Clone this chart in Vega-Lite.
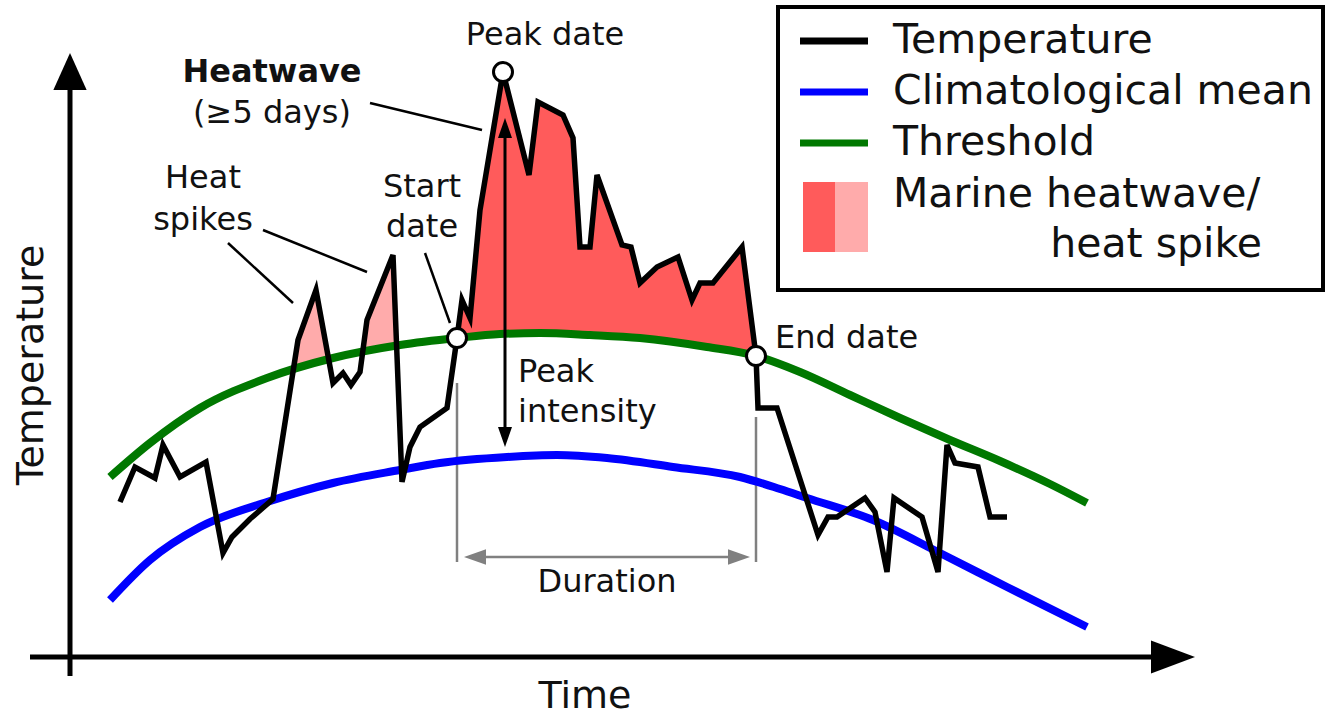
{
  "$schema": "https://vega.github.io/schema/vega-lite/v6.json",
  "width": 1328,
  "height": 718,
  "autosize": {"type": "fit", "contains": "padding"},
  "padding": 0,
  "background": "white",
  "config": {"view": {"stroke": null}, "text": {"font": "DejaVu Sans", "color": "#111111"}},
  "datasets": {
    "temp": [
      {"x": 120, "y": 216}, {"x": 135, "y": 251}, {"x": 155, "y": 240}, {"x": 163, "y": 273},
      {"x": 180, "y": 241}, {"x": 206, "y": 256}, {"x": 223, "y": 165}, {"x": 232, "y": 181},
      {"x": 250, "y": 199}, {"x": 273, "y": 219}, {"x": 298, "y": 378}, {"x": 316, "y": 428},
      {"x": 333, "y": 335}, {"x": 343, "y": 345}, {"x": 351, "y": 333}, {"x": 360, "y": 346},
      {"x": 367, "y": 398}, {"x": 393, "y": 463}, {"x": 402, "y": 236}, {"x": 410, "y": 271},
      {"x": 420, "y": 291}, {"x": 447, "y": 310}, {"x": 457, "y": 380}, {"x": 462, "y": 418},
      {"x": 470, "y": 400}, {"x": 480, "y": 508}, {"x": 503, "y": 646}, {"x": 529, "y": 543},
      {"x": 538, "y": 616}, {"x": 563, "y": 603}, {"x": 573, "y": 580}, {"x": 580, "y": 471},
      {"x": 590, "y": 471}, {"x": 597, "y": 543}, {"x": 622, "y": 473}, {"x": 631, "y": 471},
      {"x": 640, "y": 435}, {"x": 657, "y": 451}, {"x": 678, "y": 461}, {"x": 692, "y": 418},
      {"x": 700, "y": 435}, {"x": 713, "y": 435}, {"x": 742, "y": 471}, {"x": 756, "y": 362},
      {"x": 758, "y": 310}, {"x": 777, "y": 310}, {"x": 818, "y": 183}, {"x": 828, "y": 201},
      {"x": 837, "y": 201}, {"x": 865, "y": 220}, {"x": 875, "y": 206}, {"x": 887, "y": 146},
      {"x": 894, "y": 220}, {"x": 922, "y": 201}, {"x": 938, "y": 146}, {"x": 947, "y": 273},
      {"x": 955, "y": 255}, {"x": 978, "y": 251}, {"x": 990, "y": 201}, {"x": 1007, "y": 201}
    ],
    "thr": [
      {"x": 110, "y": 241}, {"x": 150, "y": 275}, {"x": 200, "y": 310}, {"x": 267, "y": 340},
      {"x": 333, "y": 360}, {"x": 400, "y": 373}, {"x": 457, "y": 380}, {"x": 500, "y": 384},
      {"x": 540, "y": 385}, {"x": 590, "y": 383}, {"x": 640, "y": 380}, {"x": 707, "y": 371},
      {"x": 756, "y": 362}, {"x": 800, "y": 346}, {"x": 850, "y": 323}, {"x": 900, "y": 300},
      {"x": 950, "y": 278}, {"x": 1000, "y": 257}, {"x": 1050, "y": 234}, {"x": 1087, "y": 215}
    ],
    "clim": [
      {"x": 110, "y": 118}, {"x": 150, "y": 158}, {"x": 200, "y": 191}, {"x": 267, "y": 216},
      {"x": 333, "y": 235}, {"x": 400, "y": 248}, {"x": 440, "y": 255}, {"x": 507, "y": 261},
      {"x": 557, "y": 263}, {"x": 607, "y": 260}, {"x": 673, "y": 251}, {"x": 740, "y": 241},
      {"x": 780, "y": 229}, {"x": 807, "y": 220}, {"x": 873, "y": 198}, {"x": 940, "y": 165},
      {"x": 1007, "y": 131}, {"x": 1087, "y": 91}
    ],
    "hw": [
      {"x": 457, "y": 380, "y2": 380}, {"x": 462, "y": 418, "y2": 380.5}, {"x": 470, "y": 400, "y2": 381},
      {"x": 480, "y": 508, "y2": 382}, {"x": 503, "y": 646, "y2": 384}, {"x": 529, "y": 543, "y2": 384.5},
      {"x": 538, "y": 616, "y2": 385}, {"x": 563, "y": 603, "y2": 384}, {"x": 573, "y": 580, "y2": 384},
      {"x": 580, "y": 471, "y2": 383.5}, {"x": 590, "y": 471, "y2": 383}, {"x": 597, "y": 543, "y2": 382.5},
      {"x": 622, "y": 473, "y2": 381}, {"x": 631, "y": 471, "y2": 380.5}, {"x": 640, "y": 435, "y2": 380},
      {"x": 657, "y": 451, "y2": 378}, {"x": 678, "y": 461, "y2": 375}, {"x": 692, "y": 418, "y2": 373},
      {"x": 700, "y": 435, "y2": 372}, {"x": 713, "y": 435, "y2": 370}, {"x": 742, "y": 471, "y2": 365},
      {"x": 756, "y": 362, "y2": 362}
    ],
    "hs": [
      {"g": 1, "x": 293, "y": 349, "y2": 349}, {"g": 1, "x": 298, "y": 378, "y2": 350},
      {"g": 1, "x": 316, "y": 428, "y2": 355}, {"g": 1, "x": 329, "y": 358, "y2": 358},
      {"g": 2, "x": 363, "y": 366, "y2": 366}, {"g": 2, "x": 367, "y": 398, "y2": 366.5},
      {"g": 2, "x": 393, "y": 463, "y2": 371.5}, {"g": 2, "x": 397, "y": 372, "y2": 372}
    ],
    "annot": [
      {"x": 370, "y": 615, "x2": 482, "y2": 588},
      {"x": 228, "y": 475, "x2": 293, "y2": 415},
      {"x": 263, "y": 488, "x2": 367, "y2": 446},
      {"x": 425, "y": 465, "x2": 450, "y2": 395}
    ],
    "peakline": [{"x": 505, "y": 590, "x2": 505, "y2": 280}],
    "axes": [
      {"x": 70, "y": 42, "x2": 70, "y2": 630},
      {"x": 30, "y": 61, "x2": 1160, "y2": 61}
    ],
    "dur": [
      {"x": 457, "y": 335, "x2": 457, "y2": 156},
      {"x": 756, "y": 301, "x2": 756, "y2": 156},
      {"x": 475, "y": 161, "x2": 740, "y2": 161}
    ],
    "events": [{"x": 457, "y": 380}, {"x": 503, "y": 646}, {"x": 756, "y": 362}],
    "legbox": [{"x": 778, "y": 711, "x2": 1323, "y2": 428}],
    "leglines": [
      {"s": "Temperature", "x": 800, "x2": 868, "y": 677},
      {"s": "Climatological mean", "x": 800, "x2": 868, "y": 626},
      {"s": "Threshold", "x": 800, "x2": 868, "y": 575}
    ],
    "legswatch": [
      {"k": "Marine heatwave", "x": 803, "x2": 835, "y": 536, "y2": 466},
      {"k": "Heat spike", "x": 835, "x2": 868, "y": 536, "y2": 466}
    ],
    "yhead": [{"x": 70, "y": 665}],
    "xhead": [{"x": 1195, "y": 61}],
    "uphead": [{"x": 505, "y": 600}],
    "downhead": [{"x": 505, "y": 271}],
    "lefthead": [{"x": 464, "y": 161}],
    "righthead": [{"x": 750, "y": 161}],
    "labels": [
      {"role": "center", "x": 545, "y": 683, "t": "Peak date"},
      {"role": "center", "x": 272, "y": 605, "t": "(≥5 days)"},
      {"role": "center", "x": 203, "y": 540, "t": "Heat"},
      {"role": "center", "x": 203, "y": 498, "t": "spikes"},
      {"role": "center", "x": 422, "y": 531, "t": "Start"},
      {"role": "center", "x": 422, "y": 491, "t": "date"},
      {"role": "center", "x": 607, "y": 136, "t": "Duration"},
      {"role": "bold", "x": 272, "y": 646, "t": "Heatwave"},
      {"role": "left", "x": 518, "y": 346, "t": "Peak"},
      {"role": "left", "x": 518, "y": 306, "t": "intensity"},
      {"role": "left", "x": 775, "y": 380, "t": "End date"},
      {"role": "legend", "x": 893, "y": 677, "t": "Temperature"},
      {"role": "legend", "x": 893, "y": 626, "t": "Climatological mean"},
      {"role": "legend", "x": 893, "y": 575, "t": "Threshold"},
      {"role": "legend", "x": 893, "y": 523, "t": "Marine heatwave/"},
      {"role": "legendRight", "x": 1262, "y": 473, "t": "heat spike"},
      {"role": "axis", "x": 585, "y": 21, "t": "Time"},
      {"role": "axisY", "x": 32, "y": 353, "t": "Temperature"}
    ]
  },
  "encoding": {
    "x": {"field": "x", "type": "quantitative", "scale": {"domain": [0, 1328], "nice": false, "zero": false}, "axis": null},
    "y": {"field": "y", "type": "quantitative", "scale": {"domain": [0, 718], "nice": false, "zero": false}, "axis": null}
  },
  "layer": [
    {"data": {"name": "hw"}, "mark": {"type": "area", "color": "#ff5b5b", "opacity": 1}, "encoding": {"y2": {"field": "y2"}}},
    {"data": {"name": "hs"}, "mark": {"type": "area", "color": "#ffabab", "opacity": 1}, "encoding": {"y2": {"field": "y2"}, "detail": {"field": "g", "type": "nominal"}}},
    {"data": {"name": "axes"}, "mark": {"type": "rule", "color": "black", "strokeWidth": 5}, "encoding": {"x2": {"field": "x2"}, "y2": {"field": "y2"}}},
    {"data": {"name": "yhead"}, "mark": {"type": "point", "shape": "M0,0L-0.45,1L0.45,1Z", "size": 5476, "filled": true, "color": "black", "opacity": 1}},
    {"data": {"name": "xhead"}, "mark": {"type": "point", "shape": "M0,0L-0.375,1L0.375,1Z", "size": 7744, "angle": 90, "filled": true, "color": "black", "opacity": 1}},
    {"data": {"name": "dur"}, "mark": {"type": "rule", "color": "#808080", "strokeWidth": 2.5}, "encoding": {"x2": {"field": "x2"}, "y2": {"field": "y2"}}},
    {"data": {"name": "lefthead"}, "mark": {"type": "point", "shape": "M0,0L-0.35,1L0.35,1Z", "size": 1936, "angle": 270, "filled": true, "color": "#808080", "opacity": 1}},
    {"data": {"name": "righthead"}, "mark": {"type": "point", "shape": "M0,0L-0.35,1L0.35,1Z", "size": 1936, "angle": 90, "filled": true, "color": "#808080", "opacity": 1}},
    {"data": {"name": "clim"}, "mark": {"type": "line", "color": "#0000ff", "strokeWidth": 8, "interpolate": "monotone"}},
    {"data": {"name": "thr"}, "mark": {"type": "line", "color": "#007800", "strokeWidth": 8, "interpolate": "monotone"}},
    {"data": {"name": "peakline"}, "mark": {"type": "rule", "color": "black", "strokeWidth": 3}, "encoding": {"x2": {"field": "x2"}, "y2": {"field": "y2"}}},
    {"data": {"name": "uphead"}, "mark": {"type": "point", "shape": "M0,0L-0.35,1L0.35,1Z", "size": 1600, "filled": true, "color": "black", "opacity": 1}},
    {"data": {"name": "downhead"}, "mark": {"type": "point", "shape": "M0,0L-0.35,1L0.35,1Z", "size": 1600, "angle": 180, "filled": true, "color": "black", "opacity": 1}},
    {"data": {"name": "annot"}, "mark": {"type": "rule", "color": "black", "strokeWidth": 2.5}, "encoding": {"x2": {"field": "x2"}, "y2": {"field": "y2"}}},
    {"data": {"name": "temp"}, "mark": {"type": "line", "color": "black", "strokeWidth": 5.5, "strokeJoin": "miter"}},
    {"data": {"name": "events"}, "mark": {"type": "point", "shape": "circle", "size": 361, "filled": false, "fill": "white", "stroke": "black", "strokeWidth": 3, "opacity": 1}},
    {"data": {"name": "legbox"}, "mark": {"type": "rect", "fill": "white", "stroke": "black", "strokeWidth": 4}, "encoding": {"x2": {"field": "x2"}, "y2": {"field": "y2"}}},
    {"data": {"name": "leglines"}, "mark": {"type": "rule", "strokeWidth": 7}, "encoding": {"x2": {"field": "x2"}, "color": {"field": "s", "type": "nominal", "scale": {"domain": ["Temperature", "Climatological mean", "Threshold"], "range": ["#000000", "#0000ff", "#007800"]}, "legend": null}}},
    {"data": {"name": "legswatch"}, "mark": {"type": "rect", "opacity": 1}, "encoding": {"x2": {"field": "x2"}, "y2": {"field": "y2"}, "fill": {"field": "k", "type": "nominal", "scale": {"domain": ["Marine heatwave", "Heat spike"], "range": ["#ff5b5b", "#ffabab"]}, "legend": null}}},
    {"data": {"name": "labels"}, "transform": [{"filter": "datum.role === 'center'"}], "mark": {"type": "text", "fontSize": 32, "align": "center", "baseline": "middle"}, "encoding": {"text": {"field": "t"}}},
    {"data": {"name": "labels"}, "transform": [{"filter": "datum.role === 'bold'"}], "mark": {"type": "text", "fontSize": 32, "fontWeight": "bold", "align": "center", "baseline": "middle"}, "encoding": {"text": {"field": "t"}}},
    {"data": {"name": "labels"}, "transform": [{"filter": "datum.role === 'left'"}], "mark": {"type": "text", "fontSize": 32, "align": "left", "baseline": "middle"}, "encoding": {"text": {"field": "t"}}},
    {"data": {"name": "labels"}, "transform": [{"filter": "datum.role === 'legend'"}], "mark": {"type": "text", "fontSize": 41, "align": "left", "baseline": "middle"}, "encoding": {"text": {"field": "t"}}},
    {"data": {"name": "labels"}, "transform": [{"filter": "datum.role === 'legendRight'"}], "mark": {"type": "text", "fontSize": 41, "align": "right", "baseline": "middle"}, "encoding": {"text": {"field": "t"}}},
    {"data": {"name": "labels"}, "transform": [{"filter": "datum.role === 'axis'"}], "mark": {"type": "text", "fontSize": 38, "align": "center", "baseline": "middle"}, "encoding": {"text": {"field": "t"}}},
    {"data": {"name": "labels"}, "transform": [{"filter": "datum.role === 'axisY'"}], "mark": {"type": "text", "fontSize": 38, "align": "center", "baseline": "middle", "angle": 270}, "encoding": {"text": {"field": "t"}}}
  ]
}
